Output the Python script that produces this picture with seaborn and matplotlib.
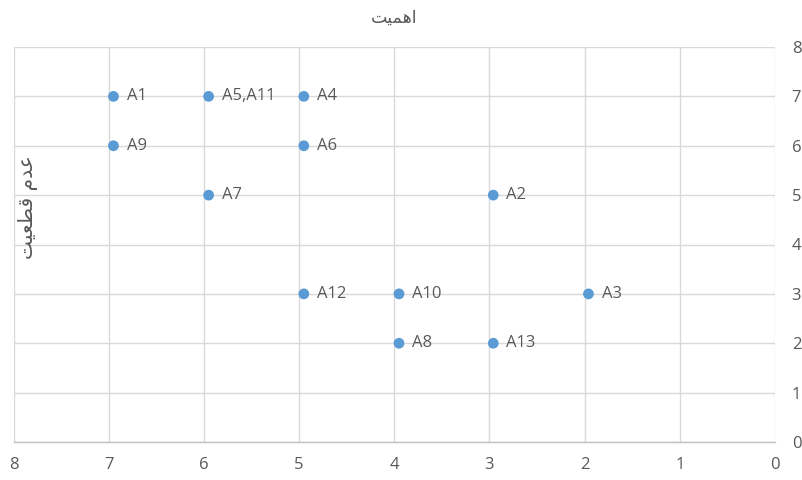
import matplotlib
matplotlib.use("Agg")
import matplotlib.pyplot as plt
import seaborn as sns
import pandas as pd

labels = ["A1", "A5,A11", "A4", "A9", "A6", "A7", "A2", "A12", "A10", "A3", "A8", "A13"]
importance = [6.95, 5.95, 4.95, 6.95, 4.95, 5.95, 2.96, 4.95, 3.95, 1.96, 3.95, 2.96]
uncertainty = [7, 7, 7, 6, 6, 5, 5, 3, 3, 3, 2, 2]
ticks = [0, 1, 2, 3, 4, 5, 6, 7, 8]

# Persian titles in presentation forms (visual order) since matplotlib has no shaping
title_text = "\uFE96\uFEF4\uFEE4\uFEEB\uFE8D"          # اهمیت
ylabel_text = "\uFE96\uFEF4\uFECC\uFEC4\uFED7 \uFEE1\uFEAA\uFECB"  # عدم قطعیت

df = pd.DataFrame({"x": importance, "y": uncertainty, "label": labels})

sns.set_theme(style="white")
plt.rcParams["font.family"] = ["Open Sans", "DejaVu Sans"]

text_color = "#595959"
grid_color = "#d9d9d9"

fig = plt.figure(figsize=(8.03, 4.80), dpi=100)
ax = fig.add_axes([13.5 / 803, 1 - 442 / 480, (775 - 13.5) / 803, (442 - 47) / 480])

sns.scatterplot(data=df, x="x", y="y", ax=ax, color="#5b9bd5", s=60,
                edgecolor="none", zorder=3, legend=False)

for _, r in df.iterrows():
    ax.annotate(r["label"], (r["x"], r["y"]), xytext=(9.5, 0), textcoords="offset points",
                va="center", ha="left", fontsize=12, color=text_color, zorder=4)

ax.set_xlim(8, 0)
ax.set_ylim(0, 8)
ax.set_xticks(ticks)
ax.set_yticks(ticks)
ax.set_xticklabels([str(t) for t in ticks])
ax.set_yticklabels([str(t) for t in ticks])
ax.yaxis.tick_right()
ax.tick_params(axis="both", length=0, labelsize=12, labelcolor=text_color)
ax.tick_params(axis="x", pad=11)
ax.tick_params(axis="y", pad=12)
ax.grid(True, color=grid_color, linewidth=1)
ax.set_axisbelow(True)
ax.set_xlabel("")
ax.set_ylabel("")
for side in ["top", "right", "left"]:
    ax.spines[side].set_visible(False)
ax.spines["bottom"].set_color("#bfbfbf")
ax.spines["bottom"].set_linewidth(1)

fig.text(394 / 803, 1 - 18 / 480, title_text, ha="center", va="center",
         fontsize=12.5, color=text_color, family=["DejaVu Sans"])
fig.text(28 / 803, 1 - 207 / 480, ylabel_text, ha="center", va="center", rotation=90,
         fontsize=14.5, color=text_color, family=["DejaVu Sans"])

fig.savefig("out.png", dpi=100, facecolor="white")
